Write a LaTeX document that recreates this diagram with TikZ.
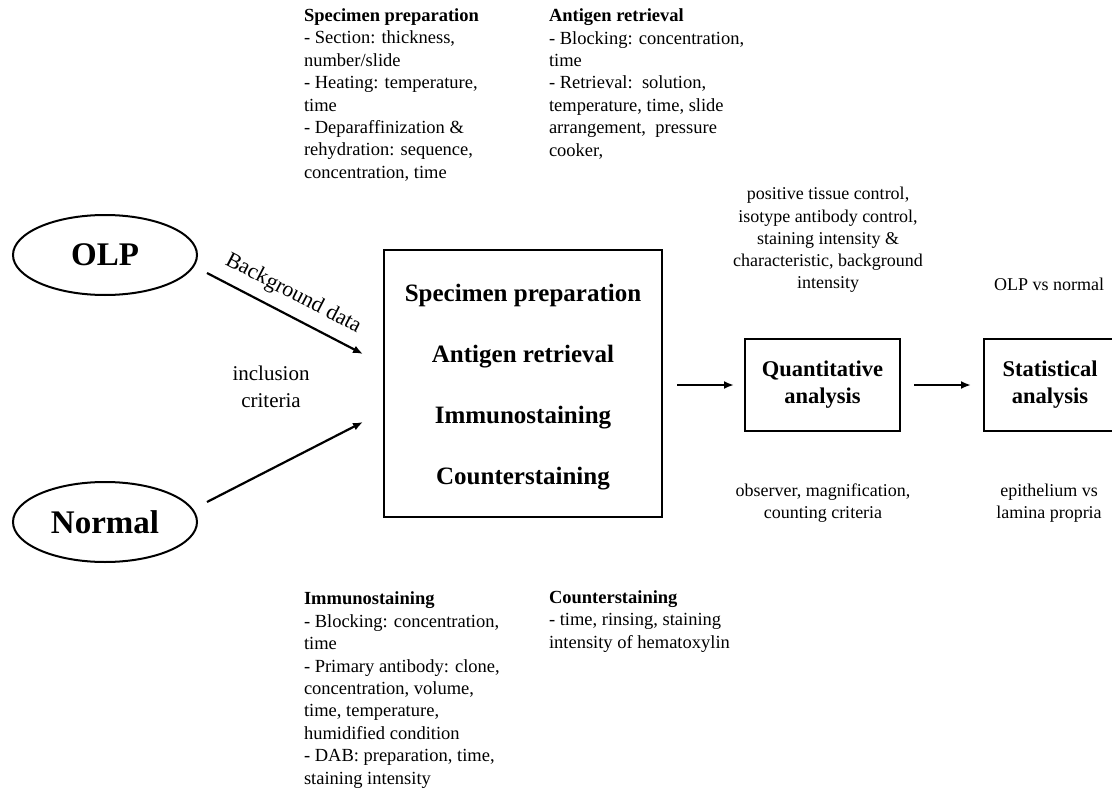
\documentclass[tikz,border=0pt]{standalone}
\usepackage{fontspec}
\setmainfont{Liberation Serif}
\usetikzlibrary{arrows.meta,calc,shapes.geometric}
\begin{document}
\begin{tikzpicture}[x=1pt,y=-1pt,
  every node/.style={inner sep=0pt, outer sep=0pt},
  grp/.style={draw, line width=2pt, ellipse, minimum width=184pt, minimum height=80pt, font=\fontsize{33}{36}\selectfont\bfseries},
  mainbox/.style={draw, line width=2pt, minimum width=278pt, minimum height=267pt},
  maintext/.style={align=center, font=\fontsize{25}{61}\selectfont\bfseries},
  anbox/.style={draw, line width=2pt, align=center, minimum height=92pt, font=\fontsize{22.5}{27}\selectfont\bfseries},
  notes/.style={align=left, anchor=west, font=\fontsize{18.5}{22.4}\selectfont},
  remark/.style={align=center, font=\fontsize{18}{22.2}\selectfont},
  arr/.style={line width=2.2pt, -{Latex[length=10pt,width=8pt]}}
]
\useasboundingbox (0,0) rectangle (1112,792);

% groups
\node[grp] (olp) at (105,255) {OLP};
\node[grp] (normal) at (105,522) {Normal};

% main box
\node[mainbox] (main) at (523,383.5) {};
\node[maintext] (maintxt) at (523,387) {Specimen preparation\\Antigen retrieval\\Immunostaining\\Counterstaining};

% analysis boxes
\node[anbox, minimum width=155pt] (quant) at (822.5,385) {Quantitative\\analysis};
\node[anbox, minimum width=132pt] (stat) at (1050,385) {Statistical\\analysis};

% connector ends
\coordinate (olpout) at (207,273);
\coordinate (olpin) at (363,354);
\coordinate (normout) at (207,502);
\coordinate (normin) at (363,422);

\draw[arr] (olpout) -- (olpin) node[pos=0.49, sloped, above=11pt, font=\fontsize{22}{26}\selectfont] (bgd) {Background data};
\draw[arr] (normout) -- (normin);
\draw[arr, shorten <=15pt, shorten >=11pt] (main.east |- quant.west) -- (quant.west);
\draw[arr, shorten <=14pt, shorten >=13pt] (quant.east) -- (stat.west);

\node[align=center, font=\fontsize{21}{27}\selectfont] (incl) at (271,387) {inclusion\\criteria};

% notes
\node[notes] (n1) at (304,95) {\textbf{Specimen preparation}\\- Section: thickness,\\number/slide\\- Heating: temperature,\\time\\- Deparaffinization \&\\rehydration: sequence,\\concentration, time};
\node[notes] (n2) at (549,84) {\textbf{Antigen retrieval}\\- Blocking: concentration,\\time\\- Retrieval:\ \ solution,\\temperature, time, slide\\arrangement,\ \ pressure\\cooker,};
\node[notes] (n3) at (304,690) {\textbf{Immunostaining}\\- Blocking: concentration,\\time\\- Primary antibody: clone,\\concentration, volume,\\time, temperature,\\humidified condition\\- DAB: preparation, time,\\staining intensity};
\node[notes] (n4) at (549,621.5) {\textbf{Counterstaining}\\- time, rinsing, staining\\intensity of hematoxylin};

\node[remark] (r1) at (828,240) {positive tissue control,\\isotype antibody control,\\staining intensity \&\\characteristic, background\\intensity};
\node[remark] (r2) at (1049,284) {OLP vs normal};
\node[remark] (r3) at (823,503) {observer, magnification,\\counting criteria};
\node[remark] (r4) at (1049,503) {epithelium vs\\lamina propria};
\end{tikzpicture}
\end{document}
